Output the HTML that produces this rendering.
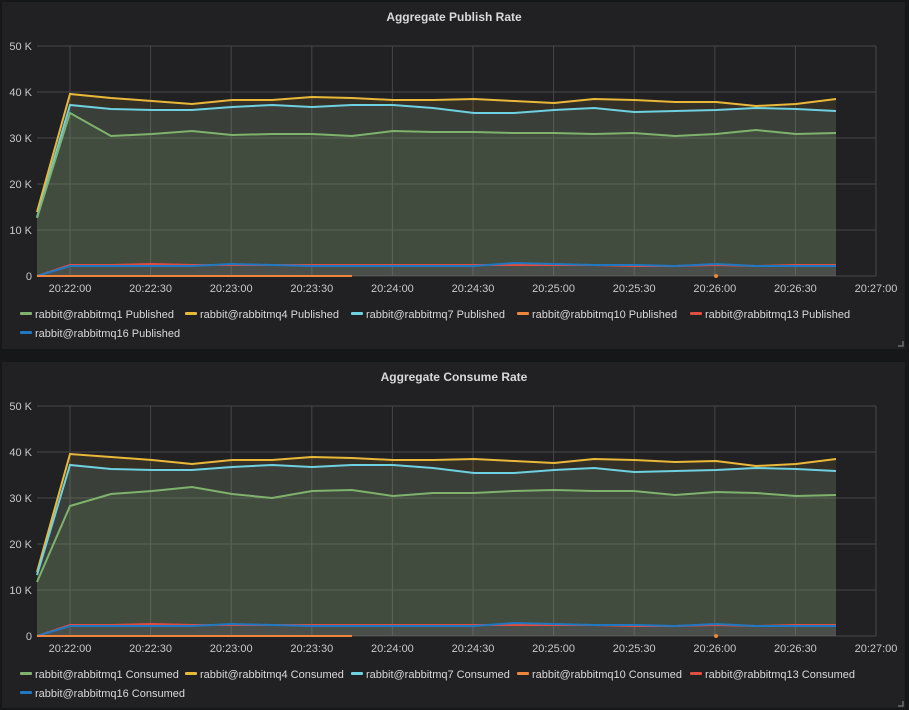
<!DOCTYPE html>
<html><head><meta charset="utf-8"><style>
body{margin:0;background:#161719;width:909px;height:710px;overflow:hidden;font-family:"Liberation Sans",sans-serif}
svg{position:absolute;left:0;top:0}
</style></head><body>
<svg id="s" width="909" height="710" xmlns="http://www.w3.org/2000/svg"></svg>
<script>
const X=[37,70,111,152,192,232,272,312,352,393,433,474,514,554,594,634,675,716,756,796,836];
const P={
y:[212,94,98,101,104,100,100,97,98,100,100,99,101,103,99,100,102,102,106,104,99],
c:[217,105,109,110,110,107,105,107,105,105,108,113,113,110,108,112,111,110,108,109,111],
g:[218,113,136,134,131,135,134,134,136,131,132,132,133,133,134,133,136,134,130,134,133]};
const C={
y:[212,94,97,100,104,100,100,97,98,100,100,99,101,103,99,100,102,101,106,104,99],
c:[215,105,109,110,110,107,105,107,105,105,108,113,113,110,108,112,111,110,108,109,111],
g:[222,146,134,131,127,134,138,131,130,136,133,133,131,130,131,131,135,132,133,136,135]};
const lowR=[276,265,265,264,265,265,265,265,265,265,265,265,265,265,265,266,266,265,266,265,265];
const lowB=[276,266,266,266,266,264,265,266,266,266,266,266,263,264,265,265,266,264,266,266,266];
let h='';
function pts(a,off){return X.map((x,i)=>x+','+(a[i]+off)).join(' ')}
function panel(off,title,suf,D){
 h+=`<rect x="2" y="${off+2}" width="903" height="${off?346:347}" fill="#212124"/>`;
 h+=`<text x="454" y="${off+21}" text-anchor="middle" fill="#d8d9da" font-size="12" font-weight="bold">${title}</text>`;
 for(let k=0;k<=5;k++){let y=off+276-k*46;h+=`<line x1="37" x2="876" y1="${y}" y2="${y}" stroke="#464646" stroke-width="1"/>`;
  h+=`<text x="32" y="${y+4}" text-anchor="end" fill="#c8c8c8" font-size="11">${k?k*10+' K':'0'}</text>`;}
 const tl=['20:22:00','20:22:30','20:23:00','20:23:30','20:24:00','20:24:30','20:25:00','20:25:30','20:26:00','20:26:30','20:27:00'];
 tl.forEach((t,i)=>{let x=70+i*80.6;h+=`<line x1="${x}" x2="${x}" y1="${off+46}" y2="${off+276}" stroke="#464646"/>`;
  h+=`<text x="${x}" y="${off+292}" text-anchor="middle" fill="#c8c8c8" font-size="11">${t}</text>`;});
 const base=off+276;
 const ser=[[D.y,'#eab839'],[D.c,'#6ed0e0'],[D.g,'#7eb26d'],[lowR,'#e24d42'],[lowB,'#1f78c1']];
 ser.forEach(([a,c])=>{h+=`<polygon points="37,${base} ${pts(a,off)} 836,${base}" fill="${c}" fill-opacity="0.1"/>`;});
 ser.forEach(([a,c])=>{h+=`<polyline points="${pts(a,off)}" fill="none" stroke="${c}" stroke-width="2"/>`;});
 h+=`<line x1="37" x2="352" y1="${base}" y2="${base}" stroke="#ef843c" stroke-width="2"/><circle cx="716" cy="${base}" r="2" fill="#ef843c"/>`;
 const L=[['#7eb26d','rabbit@rabbitmq1',20],['#eab839','rabbit@rabbitmq4',185],['#6ed0e0','rabbit@rabbitmq7',351],['#ef843c','rabbit@rabbitmq10',517],['#e24d42','rabbit@rabbitmq13',690]];
 L.forEach(([c,n,x])=>{h+=`<rect x="${x}" y="${off+312}" width="12" height="3" rx="1" fill="${c}"/><text x="${x+15}" y="${off+318}" fill="#d8d9da" font-size="11">${n} ${suf}</text>`;});
 h+=`<rect x="20" y="${off+331}" width="12" height="3" rx="1" fill="#1f78c1"/><text x="35" y="${off+337}" fill="#d8d9da" font-size="11">rabbit@rabbitmq16 ${suf}</text>`;
 h+=`<path d="M898 ${off+346}h5v-5" fill="none" stroke="#6a6a6a" stroke-width="1.5"/>`;
}
panel(0,'Aggregate Publish Rate','Published',P);
panel(360,'Aggregate Consume Rate','Consumed',C);
document.getElementById('s').innerHTML=h;
</script>
</body></html>
